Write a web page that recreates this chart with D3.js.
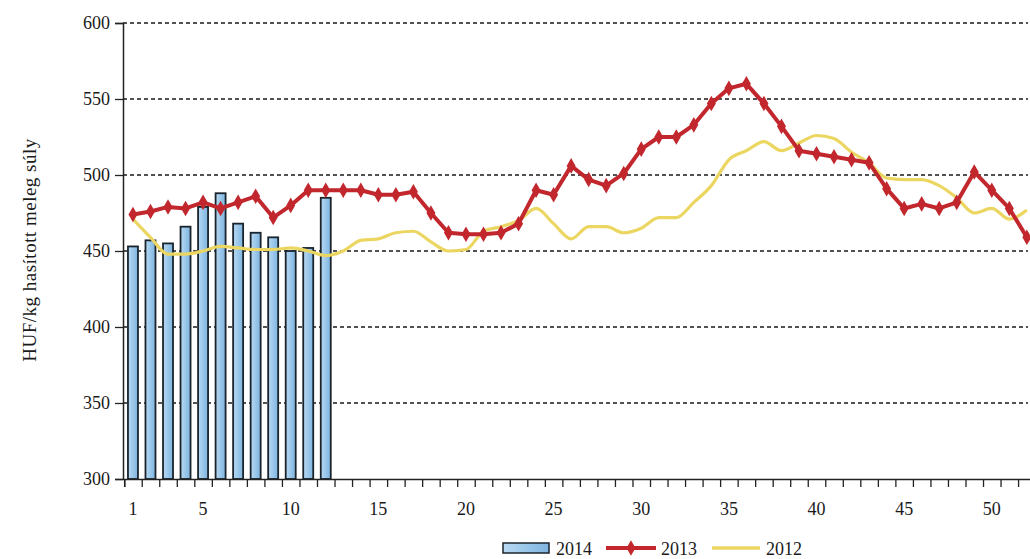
<!DOCTYPE html>
<html>
<head>
<meta charset="utf-8">
<script src="https://cdn.jsdelivr.net/npm/d3@7"></script>
<style>
  html, body { margin: 0; padding: 0; background: #fff; }
  svg { display: block; }
  text { font-family: "Liberation Serif", "DejaVu Serif", serif; fill: #1a1a1a; }
</style>
</head>
<body>
<svg id="chart" width="1030" height="559"></svg>
<script>
// ---- data ----
const weeks = d3.range(1, 53);
const xTickLabels = [1, 5, 10, 15, 20, 25, 30, 35, 40, 45, 50];
const yTicks = [300, 350, 400, 450, 500, 550, 600];
const seriesNames = ["2014", "2013", "2012"];

const values2014 = [453, 457, 455, 466, 479, 488, 468, 462, 459, 450, 452, 485];

const values2013 = [474, 476, 479, 478, 482, 478, 482, 486, 472, 480, 490, 490,
  490, 490, 487, 487, 489, 475, 462, 461, 461, 462, 468, 490, 487, 506,
  497, 493, 501, 517, 525, 525, 533, 547, 557, 560, 547, 532, 516, 514,
  512, 510, 508, 491, 478, 481, 478, 482, 502, 490, 478, 459];

const values2012 = [471, 459, 448, 448, 450, 453, 452, 451, 451, 452, 450, 447,
  450, 457, 458, 462, 463, 456, 450, 451, 463, 466, 470, 478, 468, 458,
  466, 466, 462, 465, 472, 472, 482, 493, 510, 516, 522, 516, 521, 526,
  524, 515, 508, 498, 497, 497, 493, 485, 475, 478, 471, 477];

// ---- layout ----
const svg = d3.select("#chart");
const x = d3.scaleLinear().domain([0.5, 52.5]).range([124.2, 1035.6]);
const y = d3.scaleLinear().domain([300, 600]).range([479, 23]);
const axisLeft = 123;
const fs = 18;

// gradient for bars
const defs = svg.append("defs");
const grad = defs.append("linearGradient").attr("id", "barGrad")
  .attr("x1", "0").attr("x2", "1").attr("y1", "0").attr("y2", "0");
grad.append("stop").attr("offset", "0%").attr("stop-color", "#b9daf3");
grad.append("stop").attr("offset", "60%").attr("stop-color", "#94c3e8");
grad.append("stop").attr("offset", "100%").attr("stop-color", "#7fb3de");

// gridlines
svg.append("g")
  .selectAll("line")
  .data(yTicks.filter(v => v > 300))
  .join("line")
  .attr("x1", axisLeft).attr("x2", 1028)
  .attr("y1", d => y(d)).attr("y2", d => y(d))
  .attr("stroke", "#1a1a1a").attr("stroke-width", 1.4)
  .attr("stroke-dasharray", "4,3");

// bars 2014
const barW = 10;
svg.append("g")
  .selectAll("rect")
  .data(values2014)
  .join("rect")
  .attr("x", (d, i) => x(weeks[i]) - barW / 2)
  .attr("y", d => y(d))
  .attr("width", barW)
  .attr("height", d => y(300) - y(d))
  .attr("fill", "url(#barGrad)")
  .attr("stroke", "#1a242c")
  .attr("stroke-width", 1.8);

// line 2012
const line = d3.line().x((d, i) => x(weeks[i])).y(d => y(d)).curve(d3.curveMonotoneX);
svg.append("path")
  .datum(values2012)
  .attr("d", line)
  .attr("fill", "none")
  .attr("stroke", "#ecd662")
  .attr("stroke-width", 3.2)
  .attr("stroke-linejoin", "round");

// line 2013
const line13 = d3.line().x((d, i) => x(weeks[i])).y(d => y(d));
svg.append("path")
  .datum(values2013)
  .attr("d", line13)
  .attr("fill", "none")
  .attr("stroke", "#c1272d")
  .attr("stroke-width", 4)
  .attr("stroke-linejoin", "round");

const diamond = d3.symbol().type(d3.symbolDiamond).size(70);
svg.append("g")
  .selectAll("path")
  .data(values2013)
  .join("path")
  .attr("transform", (d, i) => `translate(${x(weeks[i])},${y(d)})`)
  .attr("d", diamond)
  .attr("fill", "#c1272d");

// y axis
const yAxis = d3.axisLeft(y).tickValues(yTicks).tickSize(8).tickPadding(5);
const gy = svg.append("g").attr("transform", `translate(${axisLeft},0)`).call(yAxis);
gy.select(".domain").attr("stroke", "#222").attr("stroke-width", 1.5);
gy.selectAll(".tick line").attr("stroke", "#222").attr("stroke-width", 1.3);
gy.selectAll("text").attr("font-size", fs).attr("font-family", "Liberation Serif").attr("fill", "#1a1a1a");

// x axis
const xAxis = d3.axisBottom(x)
  .tickValues(d3.range(0.5, 53, 1))
  .tickSize(8)
  .tickFormat("");
const gx = svg.append("g").attr("transform", `translate(0,${y(300)})`).call(xAxis);
gx.select(".domain").attr("stroke", "#222").attr("stroke-width", 1.5);
gx.selectAll(".tick line").attr("stroke", "#222").attr("stroke-width", 1.3);

svg.append("g")
  .selectAll("text")
  .data(xTickLabels)
  .join("text")
  .attr("x", d => x(d))
  .attr("y", 515)
  .attr("text-anchor", "middle")
  .attr("font-size", fs)
  .text(d => d);

// y title
svg.append("text")
  .attr("transform", "translate(36,250) rotate(-90)")
  .attr("text-anchor", "middle")
  .attr("font-size", 19)
  .attr("letter-spacing", 0.5)
  .text("HUF/kg hasított meleg súly");

// legend
const lg = svg.append("g");
lg.append("rect").attr("x", 503).attr("y", 543).attr("width", 46).attr("height", 10)
  .attr("fill", "url(#barGrad)").attr("stroke", "#1a242c").attr("stroke-width", 1.5);
lg.append("text").attr("x", 556).attr("y", 555).attr("font-size", fs).text(seriesNames[0]);
lg.append("line").attr("x1", 606).attr("x2", 656).attr("y1", 548).attr("y2", 548)
  .attr("stroke", "#c1272d").attr("stroke-width", 4);
lg.append("path").attr("transform", "translate(631,548)").attr("d", diamond).attr("fill", "#c1272d");
lg.append("text").attr("x", 661).attr("y", 555).attr("font-size", fs).text(seriesNames[1]);
lg.append("line").attr("x1", 712).attr("x2", 760).attr("y1", 548).attr("y2", 548)
  .attr("stroke", "#ecd662").attr("stroke-width", 3.5);
lg.append("text").attr("x", 766).attr("y", 555).attr("font-size", fs).text(seriesNames[2]);
</script>
</body>
</html>
